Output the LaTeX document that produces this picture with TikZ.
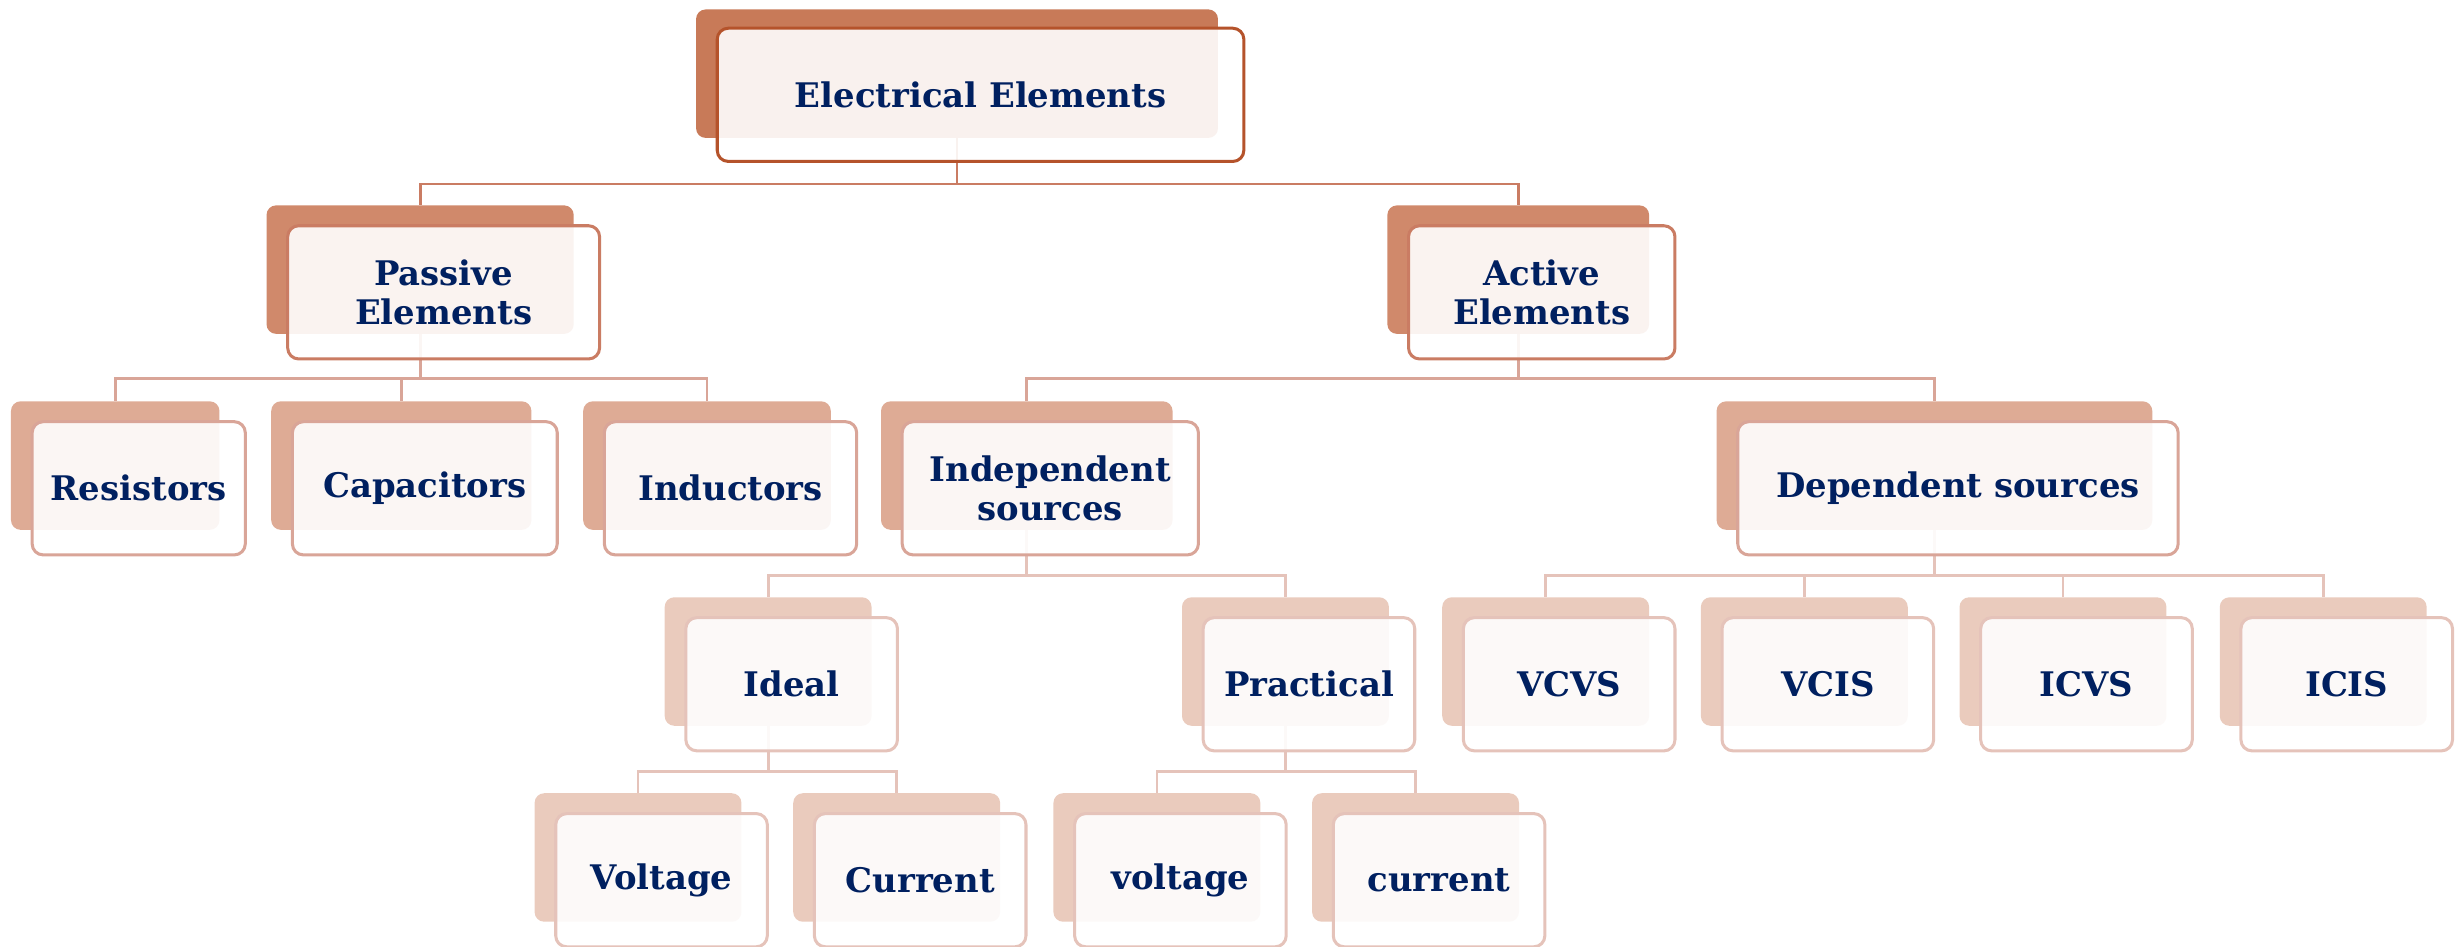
\documentclass[tikz,border=0pt]{standalone}
\usepackage{fontspec}
\setmainfont{DejaVu Serif}
\usetikzlibrary{positioning}
\definecolor{navy}{HTML}{002060}
\definecolor{backA}{HTML}{C87A58}
\definecolor{lineA}{HTML}{B5532B}
\definecolor{backB}{HTML}{D0896B}
\definecolor{lineB}{HTML}{CA7C63}
\definecolor{backC}{HTML}{DEAB95}
\definecolor{lineC}{HTML}{D9A598}
\definecolor{backD}{HTML}{EACBBD}
\definecolor{lineD}{HTML}{E5C3BA}
\pgfdeclarelayer{bg}
\pgfsetlayers{bg,main}

\begin{document}
\begin{tikzpicture}[x=0.02cm,y=-0.02cm,line cap=round,line join=round,
  back/.style={rounded corners=3.5pt,minimum height=1.64cm,inner sep=0pt},
  front/.style={draw,line width=1.1pt,rounded corners=4pt,fill=white,
    fill opacity=0.9,text opacity=1,minimum height=1.70cm,inner sep=2pt,
    align=center,text=navy,font=\bfseries\fontsize{12.3}{14.2}\selectfont},
  small/.style={minimum width=2.64cm},
  smallf/.style={minimum width=2.70cm},
  link/.style={line width=1pt}]
  \useasboundingbox (0,0) rectangle (1568,604);

  % top
  \node[back,fill=backA,minimum width=6.66cm] (elecB) at (610.5,47) {};
  \node[front,draw=lineA,minimum width=6.72cm] (elec) at (625.5,60.5) {Electrical Elements};

  % second row
  \node[back,fill=backB,minimum width=3.92cm] (passB) at (268,172) {};
  \node[front,draw=lineB,minimum width=3.98cm] (pass) at (283,186.5) {Passive\\Elements};
  \node[back,fill=backB,minimum width=3.34cm] (actB) at (968.5,172) {};
  \node[front,draw=lineB,minimum width=3.40cm] (act) at (983.5,186.5) {Active\\Elements};

  % third row
  \node[back,fill=backC,minimum width=2.66cm] (resB) at (73.5,297) {};
  \node[front,draw=lineC,minimum width=2.72cm] (res) at (88.5,311.5) {Resistors};
  \node[back,fill=backC,minimum width=3.32cm] (capB) at (256,297) {};
  \node[front,draw=lineC,minimum width=3.38cm] (cap) at (271,311.5) {Capacitors};
  \node[back,fill=backC,minimum width=3.16cm] (indB) at (451,297) {};
  \node[front,draw=lineC,minimum width=3.22cm] (ind) at (466,311.5) {Inductors};
  \node[back,fill=backC,minimum width=3.72cm] (indepB) at (655,297) {};
  \node[front,draw=lineC,minimum width=3.78cm] (indep) at (670,311.5) {Independent\\sources};
  \node[back,fill=backC,minimum width=5.56cm] (depB) at (1234,297) {};
  \node[front,draw=lineC,minimum width=5.62cm] (dep) at (1249,311.5) {Dependent sources};

  % fourth row
  \node[back,small,fill=backD] (idealB) at (490,422) {};
  \node[front,smallf,draw=lineD] (ideal) at (505,436.5) {Ideal};
  \node[back,small,fill=backD] (pracB) at (820,422) {};
  \node[front,smallf,draw=lineD] (prac) at (835,436.5) {Practical};
  \node[back,small,fill=backD] (vcvsB) at (986,422) {};
  \node[front,smallf,draw=lineD] (vcvs) at (1001,436.5) {VCVS};
  \node[back,small,fill=backD] (vcisB) at (1151,422) {};
  \node[front,smallf,draw=lineD] (vcis) at (1166,436.5) {VCIS};
  \node[back,small,fill=backD] (icvsB) at (1316,422) {};
  \node[front,smallf,draw=lineD] (icvs) at (1331,436.5) {ICVS};
  \node[back,small,fill=backD] (icisB) at (1482,422) {};
  \node[front,smallf,draw=lineD] (icis) at (1497,436.5) {ICIS};

  % last row
  \node[back,small,fill=backD] (ivB) at (407,547) {};
  \node[front,smallf,draw=lineD] (iv) at (422,561.5) {Voltage};
  \node[back,small,fill=backD] (icB) at (572,547) {};
  \node[front,smallf,draw=lineD] (ic) at (587,561.5) {Current};
  \node[back,small,fill=backD] (pvB) at (738,547) {};
  \node[front,smallf,draw=lineD] (pv) at (753,561.5) {voltage};
  \node[back,small,fill=backD] (pcB) at (903,547) {};
  \node[front,smallf,draw=lineD] (pc) at (918,561.5) {current};

  % connectors
  \begin{pgfonlayer}{bg}
    \draw[link,draw=lineB] (elecB.south) -- ++(0,29) -| (passB.north);
    \draw[link,draw=lineB] (elecB.south) -- ++(0,29) -| (actB.north);
    \draw[link,draw=lineC] (passB.south) -- ++(0,28) -| (resB.north);
    \draw[link,draw=lineC] (passB.south) -- ++(0,28) -| (capB.north);
    \draw[link,draw=lineC] (passB.south) -- ++(0,28) -| (indB.north);
    \draw[link,draw=lineC] (actB.south) -- ++(0,28) -| (indepB.north);
    \draw[link,draw=lineC] (actB.south) -- ++(0,28) -| (depB.north);
    \draw[link,draw=lineD] (indepB.south) -- ++(0,29) -| (idealB.north);
    \draw[link,draw=lineD] (indepB.south) -- ++(0,29) -| (pracB.north);
    \draw[link,draw=lineD] (depB.south) -- ++(0,29) -| (vcvsB.north);
    \draw[link,draw=lineD] (depB.south) -- ++(0,29) -| (vcisB.north);
    \draw[link,draw=lineD] (depB.south) -- ++(0,29) -| (icvsB.north);
    \draw[link,draw=lineD] (depB.south) -- ++(0,29) -| (icisB.north);
    \draw[link,draw=lineD] (idealB.south) -- ++(0,29) -| (ivB.north);
    \draw[link,draw=lineD] (idealB.south) -- ++(0,29) -| (icB.north);
    \draw[link,draw=lineD] (pracB.south) -- ++(0,29) -| (pvB.north);
    \draw[link,draw=lineD] (pracB.south) -- ++(0,29) -| (pcB.north);
  \end{pgfonlayer}
\end{tikzpicture}
\end{document}
